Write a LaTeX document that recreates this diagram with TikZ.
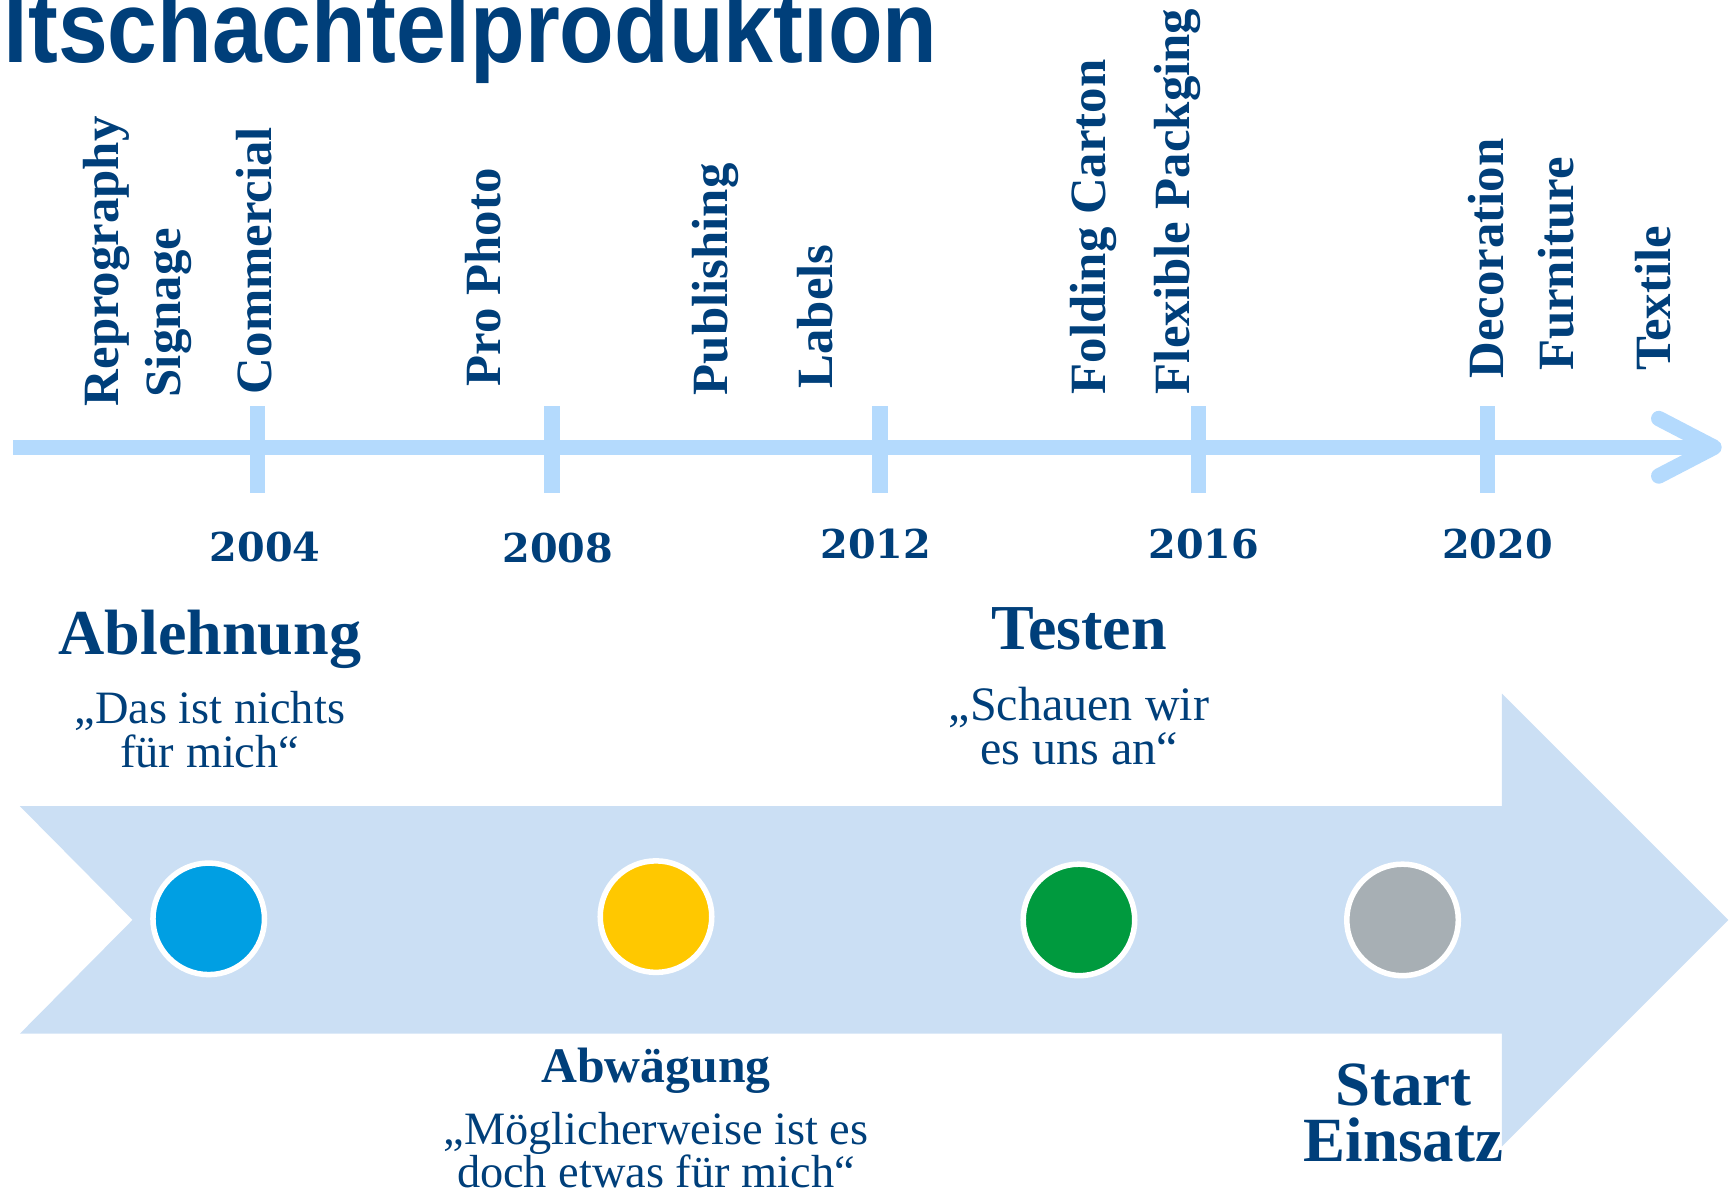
\documentclass[tikz,border=0pt]{standalone}
\usepackage{fontspec}
\setmainfont{Liberation Serif}
\newfontfamily\titlefont{Liberation Sans}
\newfontfamily\yearfont{DejaVu Serif}
\definecolor{navy}{RGB}{0,63,122}
\definecolor{axisblue}{RGB}{180,218,253}
\definecolor{bandblue}{RGB}{203,223,244}
\definecolor{cblue}{RGB}{0,159,227}
\definecolor{cyellow}{RGB}{255,200,0}
\definecolor{cgreen}{RGB}{0,154,62}
\definecolor{cgrey}{RGB}{167,175,180}
\tikzset{
  axisline/.style={draw=axisblue, line width=14},
  tickmark/.style={draw=axisblue, line width=14},
  sector/.style={text=navy, inner sep=0, rotate=90, anchor=base west,
    font=\bfseries\fontsize{46}{46}\selectfont},
  yearlbl/.style={text=navy, inner sep=0, anchor=base,
    font=\yearfont\bfseries\fontsize{36}{36}\selectfont},
  headlbl/.style={text=navy, inner sep=0, anchor=base,
    font=\bfseries\fontsize{58}{58}\selectfont},
  quotelbl/.style={text=navy, inner sep=0, anchor=base,
    font=\fontsize{42}{42}\selectfont},
  dot/.style={circle, draw=white, line width=5, minimum size=101, inner sep=0},
}
\begin{document}
\begin{tikzpicture}[x=1pt,y=-1pt]
\useasboundingbox (0,0) rectangle (1565.6,1083);
% title
\node[anchor=base west, inner sep=0, xscale=0.88, text=navy,
  font=\titlefont\bfseries\fontsize{92}{92}\selectfont] (title) at (3,57) {ltschachtelproduktion};

% big band arrow
\fill[bandblue] (18,730) -- (1360,730) -- (1360,628) -- (1565,833) -- (1360,1038)
  -- (1360,936) -- (18,936) -- (120,833) -- cycle;

% timeline axis
\coordinate (a0) at (12,405);
\coordinate (a1) at (1545,405);
\coordinate (h1) at (1502,379);
\coordinate (h2) at (1552,405);
\coordinate (h3) at (1502,431);
\draw[axisline] (a0) -- (a1);
\draw[axisline, line cap=round, line join=round] (h1) -- (h2) -- (h3);

% ticks
\foreach \x/\n in {233/t1, 500/t2, 797/t3, 1085/t4, 1347/t5}{
  \coordinate (\n a) at (\x,368);
  \coordinate (\n b) at (\x,446);
  \draw[tickmark] (\n a) -- (\n b);
}

% years
\node[yearlbl] (y1) at (240,508) {2004};
\node[yearlbl] (y2) at (505,509) {2008};
\node[yearlbl] (y3) at (793,506) {2012};
\node[yearlbl] (y4) at (1090,506) {2016};
\node[yearlbl] (y5) at (1356,506) {2020};

% sector labels
\node[sector] (s1) at (107,368) {Reprography};
\node[sector] (s2) at (163,360) {Signage};
\node[sector] (s3) at (246,357) {Commercial};
\node[sector] (s4) at (453,350) {Pro Photo};
\node[sector] (s5) at (659,358) {Publishing};
\node[sector] (s6) at (754,352) {Labels};
\node[sector] (s7) at (1001,357) {Folding Carton};
\node[sector] (s8) at (1077,357) {Flexible Packging};
\node[sector] (s9) at (1361,343) {Decoration};
\node[sector] (s10) at (1425,336) {Furniture};
\node[sector] (s11) at (1513,336) {Textile};

% phases top
\node[headlbl] (h-abl) at (190,593) {Ablehnung};
\node[quotelbl] (q1a) at (190,655) {„Das ist nichts};
\node[quotelbl] (q1b) at (190,695) {für mich“};

\node[headlbl] (h-test) at (977,588) {Testen};
\node[quotelbl, font=\fontsize{43.5}{43.5}\selectfont] (q3a) at (977,652) {„Schauen wir};
\node[quotelbl, font=\fontsize{43.5}{43.5}\selectfont] (q3b) at (977,692) {es uns an“};

% phases bottom
\node[headlbl, font=\bfseries\fontsize{45}{45}\selectfont] (h-abw) at (594,980) {Abwägung};
\node[quotelbl] (q2a) at (594,1036) {„Möglicherweise ist es};
\node[quotelbl] (q2b) at (594,1075) {doch etwas für mich“};

\node[headlbl, font=\bfseries\fontsize{57}{57}\selectfont] (h-st1) at (1271,1001) {Start};
\node[headlbl, font=\bfseries\fontsize{57}{57}\selectfont] (h-st2) at (1271,1052) {Einsatz};

% dots
\node[dot, fill=cblue] (d1) at (189,832) {};
\node[dot, fill=cyellow] (d2) at (594,830) {};
\node[dot, fill=cgreen] (d3) at (977,833) {};
\node[dot, fill=cgrey] (d4) at (1270,833) {};
\end{tikzpicture}
\end{document}
